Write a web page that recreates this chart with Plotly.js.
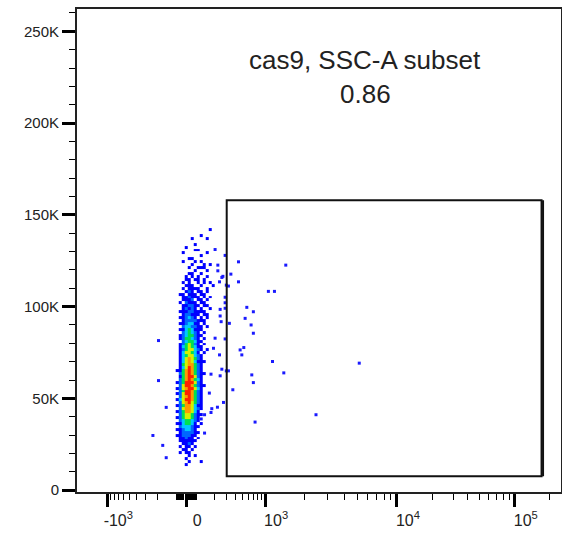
<!DOCTYPE html>
<html>
<head>
<meta charset="utf-8">
<script src="https://cdn.plot.ly/plotly-3.0.1.min.js"></script>
<style>html,body{margin:0;padding:0;background:#fff;}#chart{width:562px;height:546px;}</style>
</head>
<body>
<div id="chart"></div>
<script>
// ---------------- data ----------------
// axis ticks (raw FITC-like values on a biexponential scale)
const xTickVals = [-1000, 0, 1000, 10000, 100000];
const xTickText = ['-10<sup>3</sup>', '0', '10<sup>3</sup>', '10<sup>4</sup>', '10<sup>5</sup>'];
const xMinorVals = [-900,-800,-700,-600,-500,-400,-300,-200,-100,
  -90,-80,-70,-60,-50,-40,-30,-20,-10,
  10,20,30,40,50,60,70,80,90,
  100,200,300,400,500,600,700,800,900,
  2000,3000,4000,5000,6000,7000,8000,9000,
  20000,30000,40000,50000,60000,70000,80000,90000,200000];
const yTickVals = [0, 50000, 100000, 150000, 200000, 250000];
const yTickText = ['0', '50K', '100K', '150K', '200K', '250K'];

// pseudocolour density bins: column centres (raw x) and rows (top -> bottom, SSC-A)
const binColsX = [-88, -55, -27, 0, 27, 55, 88, 109, 123, 138, 155, 172, 191];
const binTopY = 142000;
const binStepY = 1600;
const densityRows = [
[0,0,0,0,0,0,0,0,0,0,0,1,0],
[0,0,0,0,0,0,0,0,0,0,0,0,0],
[0,0,0,0,0,0,0,0,1,0,0,0,0],
[0,0,0,0,0,1,0,0,0,0,1,0,0],
[0,0,0,0,0,0,0,0,0,0,0,0,0],
[0,0,0,0,0,0,1,0,0,0,0,0,0],
[0,0,0,1,0,0,0,0,0,0,0,0,0],
[0,0,0,0,0,0,1,1,0,0,0,0,0],
[0,0,1,0,0,0,0,0,0,0,1,0,0],
[0,0,0,0,0,0,0,0,1,0,0,0,0],
[0,0,0,0,1,1,0,0,0,0,0,0,0],
[0,0,1,0,0,0,1,0,1,0,0,0,0],
[0,0,0,0,0,1,0,0,0,1,0,1,0],
[0,0,0,0,1,0,0,1,1,1,0,0,0],
[0,0,0,0,0,0,1,0,0,0,1,0,0],
[0,0,0,0,1,1,0,0,1,0,0,0,0],
[0,0,0,1,0,1,0,1,0,0,1,0,0],
[0,0,0,1,1,0,1,1,0,1,0,0,0],
[0,0,1,0,1,0,0,1,0,1,0,1,0],
[0,0,0,1,1,1,0,0,1,0,0,0,1],
[0,0,1,0,1,1,1,1,0,0,1,0,0],
[0,0,0,1,2,1,0,1,1,0,1,0,0],
[0,1,1,0,1,1,1,0,1,1,0,0,0],
[0,0,1,1,2,1,1,1,0,1,0,1,0],
[0,0,1,1,1,2,0,1,1,0,1,0,0],
[0,1,0,2,1,1,1,0,1,1,0,0,0],
[0,0,1,1,2,2,1,1,0,1,1,0,0],
[0,0,1,2,1,2,1,0,1,0,0,1,0],
[0,1,1,1,2,2,1,1,1,1,0,0,0],
[0,0,1,2,2,1,1,1,0,1,1,0,0],
[0,1,1,2,3,2,1,0,1,0,1,0,0],
[0,0,1,2,2,2,2,1,1,1,0,0,0],
[0,1,1,2,3,3,1,1,0,1,0,0,0],
[0,0,2,3,3,2,2,1,1,0,1,0,0],
[0,1,1,3,4,3,1,1,1,0,0,0,0],
[0,0,2,3,4,3,2,1,0,1,0,0,0],
[0,1,2,3,4,4,2,1,1,0,0,0,0],
[0,1,2,4,4,3,2,1,0,1,0,0,0],
[0,0,2,3,4,4,3,1,1,0,0,0,0],
[0,1,2,4,5,4,2,1,0,1,0,0,0],
[0,1,3,4,5,4,3,1,1,0,0,0,0],
[0,1,2,4,5,5,3,2,1,0,1,0,0],
[0,1,3,5,5,4,3,1,0,1,0,0,0],
[0,1,3,4,5,5,3,2,1,0,0,0,0],
[0,1,3,5,6,5,4,2,1,0,0,0,0],
[0,1,3,5,6,5,3,1,1,1,0,0,0],
[0,1,4,5,6,6,4,2,1,0,0,0,0],
[0,1,3,5,7,6,4,2,1,0,0,0,0],
[1,1,4,6,7,6,4,2,1,0,0,0,0],
[0,2,4,6,7,6,4,2,1,1,0,0,0],
[0,1,4,6,7,7,5,2,1,0,0,0,0],
[0,2,4,6,7,6,4,3,1,0,0,0,0],
[1,2,4,7,7,7,5,2,1,0,0,0,0],
[0,2,5,7,7,6,4,2,1,1,0,0,0],
[1,2,5,6,7,7,5,3,1,0,0,0,0],
[0,2,4,7,7,6,4,2,1,0,0,0,0],
[1,2,5,7,7,6,4,2,1,0,0,0,0],
[0,2,5,6,7,6,4,2,1,0,0,0,0],
[1,3,5,7,7,6,4,2,1,0,0,0,0],
[0,2,5,6,7,5,4,2,1,0,0,0,0],
[1,2,4,6,6,5,3,1,1,0,0,0,0],
[0,2,5,6,6,5,3,2,1,0,0,0,0],
[1,2,4,6,6,5,3,1,0,0,0,0,0],
[0,2,4,5,5,4,2,1,1,0,0,0,0],
[1,2,4,5,5,4,2,1,0,0,0,0,0],
[0,2,3,4,4,3,2,1,0,0,0,0,0],
[1,1,3,4,4,3,1,0,1,0,0,0,0],
[0,2,3,3,3,2,1,1,0,0,0,0,0],
[1,1,2,3,3,2,1,0,0,0,0,0,0],
[0,1,2,2,2,2,1,1,0,0,0,0,0],
[1,1,2,2,2,1,1,0,0,0,0,0,0],
[0,1,1,2,1,1,0,1,0,0,0,0,0],
[0,1,1,1,1,1,1,0,0,0,0,0,0],
[0,0,1,1,2,1,0,0,0,0,0,0,0],
[0,1,0,1,1,0,1,0,0,0,0,0,0],
[0,0,1,1,0,1,0,0,0,0,0,0,0],
[0,1,0,1,1,0,0,0,0,0,0,0,0],
[0,0,0,0,1,0,1,0,0,0,0,0,0],
[0,0,0,1,0,0,0,0,0,0,0,0,0],
[0,0,0,0,1,0,0,0,1,0,0,0,0],
[0,0,0,1,0,0,0,0,0,0,0,0,0]
];

// individual sparse events outside the dense bins (raw x, SSC-A)
const outX = [-196,-196,-149,-237,-169,-149,
  204,224,224,256,237,437,343,437,242,242,327,567,538,648,695,695,
  204,193,237,256,177,242,460,485,516,662,695,365,270,221,733,177,140,123,167,182,140,
  285,1436,265,317,285,285,285,1059,1178,250,285,1138,5180,317,1387,2435,296,296];
const outY = [81500,59700,45100,29800,24400,17700,
  131100,122600,119500,115900,113500,124400,117700,113500,98500,94900,90900,99600,93600,90000,97200,85500,
  82800,77300,73700,65900,63200,62300,76400,73700,77700,62800,58600,54700,47800,45200,37100,42300,31100,38800,52900,44400,41100,
  127900,122600,116500,111200,105100,102100,99100,108300,108300,91800,82400,70100,69200,65000,63900,41100,111700,65000];

// gate
const gateX = [300, 170000];
const gateY = [7600, 158000];
const gateLabel = 'cas9, SSC-A subset';
const gateFreq = '0.86';

// ---------------- biexponential display transform ----------------
const hAnch = [0, Math.asinh(1), Math.asinh(10), Math.asinh(100), Math.asinh(1000), Math.asinh(2000)];
const gAnch = [0, 10, 79, 211, 329, 364];
function disp(u) {
  const s = u < 0 ? -1 : 1;
  const h = Math.asinh(Math.abs(u) / 100);
  let i = 0;
  while (i < hAnch.length - 2 && h > hAnch[i + 1]) i++;
  const g = gAnch[i] + (h - hAnch[i]) * (gAnch[i + 1] - gAnch[i]) / (hAnch[i + 1] - hAnch[i]);
  return s * g;
}

// ---------------- traces ----------------
const levelColors = ['#0000ff', '#0066ff', '#00c8ff', '#00e050', '#d4f000', '#ff9a00', '#ff2200'];
const cs = [];
levelColors.forEach((c, i) => { cs.push([i / 7, c]); cs.push([(i + 1) / 7, c]); });

const zRows = densityRows.slice().reverse().map(r => r.map(v => v === 0 ? null : v));
const nRows = densityRows.length;
const heat = {
  type: 'heatmap',
  x: binColsX.map(disp),
  y0: binTopY - binStepY * (nRows - 1),
  dy: binStepY,
  z: zRows,
  zmin: 0.5, zmax: 7.5,
  colorscale: cs,
  showscale: false,
  hoverinfo: 'skip',
  zsmooth: false
};

const dots = {
  type: 'scatter', mode: 'markers',
  x: outX.map(disp), y: outY,
  marker: {symbol: 'square', size: 3, color: '#1a1aff', line: {width: 0}},
  hoverinfo: 'skip'
};

const fontFam = 'Liberation Sans, Arial, Helvetica, sans-serif';

const layout = {
  width: 562, height: 546,
  margin: {l: 77, r: 1, t: 9, b: 54},
  paper_bgcolor: '#ffffff', plot_bgcolor: '#ffffff',
  showlegend: false,
  font: {family: fontFam, color: '#222'},
  xaxis: {
    range: [disp(-1700), disp(250000)],
    tickmode: 'array',
    tickvals: xTickVals.map(disp),
    ticktext: xTickText,
    ticks: 'outside', ticklen: 13, tickwidth: 3, tickcolor: '#000',
    tickfont: {size: 16, family: fontFam, color: '#222'},
    ticklabelshift: 11,
    showgrid: false, zeroline: false,
    showline: true, mirror: true, linecolor: '#222', linewidth: 2,
    minor: {tickmode: 'array', tickvals: xMinorVals.map(disp), ticks: 'outside', ticklen: 6, tickwidth: 1, tickcolor: '#000', showgrid: false},
    fixedrange: true
  },
  yaxis: {
    range: [-1000, 262144],
    tickmode: 'array',
    tickvals: yTickVals,
    ticktext: yTickText,
    ticks: 'outside', ticklen: 13, tickwidth: 3, tickcolor: '#000',
    tickfont: {size: 15, family: fontFam, color: '#222'},
    showgrid: false, zeroline: false,
    showline: true, mirror: true, linecolor: '#222', linewidth: 2,
    minor: {tickmode: 'linear', tick0: 0, dtick: 10000, ticks: 'outside', ticklen: 6, tickwidth: 1, tickcolor: '#000', showgrid: false},
    fixedrange: true
  },
  shapes: [
    {type: 'rect', xref: 'x', yref: 'y', x0: disp(gateX[0]), x1: disp(gateX[1]), y0: gateY[0], y1: gateY[1],
     line: {color: '#111', width: 2}, fillcolor: 'rgba(0,0,0,0)', layer: 'above'},
    {type: 'line', xref: 'x', yref: 'y', x0: disp(gateX[1]) + 1.5, x1: disp(gateX[1]) + 1.5, y0: gateY[0], y1: gateY[1],
     line: {color: '#111', width: 2}, layer: 'above'}
  ],
  annotations: [
    {xref: 'paper', yref: 'paper', x: 0.596, y: 0.894, text: gateLabel, showarrow: false,
     xanchor: 'center', yanchor: 'middle', font: {size: 26, family: fontFam, color: '#222'}},
    {xref: 'paper', yref: 'paper', x: 0.596, y: 0.8247, text: gateFreq, showarrow: false,
     xanchor: 'center', yanchor: 'middle', font: {size: 26, family: fontFam, color: '#222'}}
  ]
};

Plotly.newPlot('chart', [heat, dots], layout, {staticPlot: true, displayModeBar: false});
</script>
</body>
</html>
